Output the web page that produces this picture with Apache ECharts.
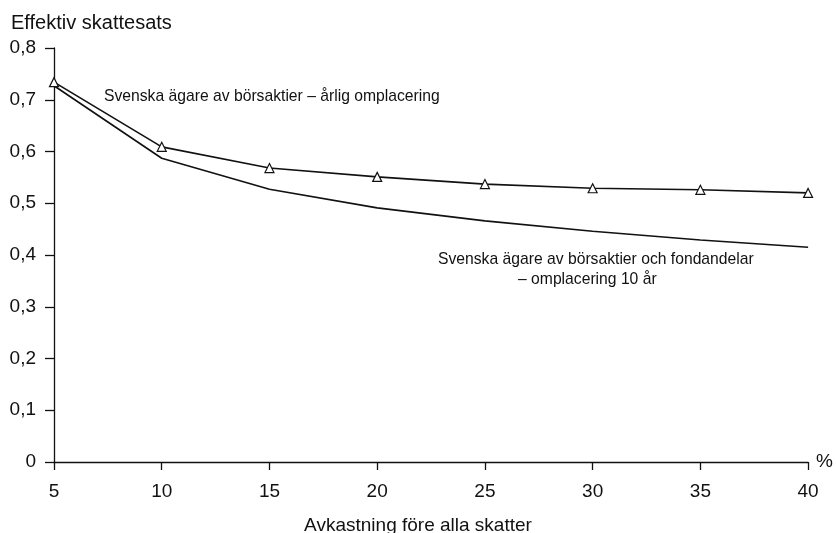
<!DOCTYPE html>
<html><head><meta charset="utf-8">
<script src="https://cdn.jsdelivr.net/npm/echarts@6/dist/echarts.min.js"></script>
<style>html,body{margin:0;padding:0;background:#fff}#c{width:836px;height:533px}</style>
</head><body><div id="c"></div>
<script>
var xValues = [5, 10, 15, 20, 25, 30, 35, 40];
var arligOmplacering = [0.734, 0.609, 0.568, 0.551, 0.537, 0.529, 0.526, 0.520];
var omplacering10 = [0.727, 0.587, 0.527, 0.491, 0.466, 0.446, 0.429, 0.415];
var yTicks = [0, 0.1, 0.2, 0.3, 0.4, 0.5, 0.6, 0.7, 0.8];
var labelUpper = 'Svenska ägare av börsaktier – årlig omplacering';
var labelLower1 = 'Svenska ägare av börsaktier och fondandelar';
var labelLower2 = '– omplacering 10 år';

var FONT = '"Liberation Sans", Arial, sans-serif';
var chart = echarts.init(document.getElementById('c'), null, {renderer: 'canvas'});
function pairs(arr) { return xValues.map(function (x, i) { return [x, arr[i]]; }); }
chart.setOption({
  animation: false,
  backgroundColor: '#fff',
  textStyle: {fontFamily: FONT, color: '#111'},
  title: [
    {text: 'Effektiv skattesats', left: 6, top: 8, textStyle: {fontFamily: FONT, fontSize: 20, fontWeight: 'normal', color: '#111'}},
    {text: 'Avkastning före alla skatter', left: 'center', top: 511, textStyle: {fontFamily: FONT, fontSize: 19, fontWeight: 'normal', color: '#111'}}
  ],
  grid: {left: 54, right: 27, top: 48, bottom: 71},
  xAxis: {
    type: 'value', min: 5, max: 40, interval: 5,
    name: '%', nameLocation: 'end', nameGap: 8,
    nameTextStyle: {fontFamily: FONT, fontSize: 19, color: '#111', verticalAlign: 'middle', padding: [0, 0, 4, 0]},
    axisLine: {show: true, lineStyle: {color: '#111', width: 1.3}},
    axisTick: {show: true, length: 8, inside: false, lineStyle: {color: '#111', width: 1.3}},
    axisLabel: {fontFamily: FONT, fontSize: 19, color: '#111', margin: 20},
    splitLine: {show: false}
  },
  yAxis: {
    type: 'value', min: 0, max: 0.8, interval: 0.1,
    axisLine: {show: true, lineStyle: {color: '#111', width: 1.3}},
    axisTick: {show: true, length: 9, lineStyle: {color: '#111', width: 1.3}},
    axisLabel: {fontFamily: FONT, fontSize: 19, color: '#111', margin: 18,
      formatter: function (v) { var t = yTicks.reduce(function (a, b) { return Math.abs(b - v) < Math.abs(a - v) ? b : a; }); return t === 0 ? '0' : t.toFixed(1).replace('.', ','); }},
    splitLine: {show: false}
  },
  series: [
    {type: 'line', data: pairs(arligOmplacering), symbol: 'triangle', symbolSize: 9,
     itemStyle: {color: '#fff', borderColor: '#111', borderWidth: 1.2},
     lineStyle: {color: '#111', width: 1.6}, z: 3},
    {type: 'line', data: pairs(omplacering10), symbol: 'none',
     lineStyle: {color: '#111', width: 1.6}, z: 2}
  ],
  graphic: [
    {type: 'text', left: 104, top: 89, style: {text: labelUpper, font: '15.7px ' + FONT, fill: '#111'}},
    {type: 'text', left: 438, top: 252, style: {text: labelLower1, font: '15.7px ' + FONT, fill: '#111'}},
    {type: 'text', left: 518, top: 272, style: {text: labelLower2, font: '15.7px ' + FONT, fill: '#111'}}
  ]
});
</script></body></html>
